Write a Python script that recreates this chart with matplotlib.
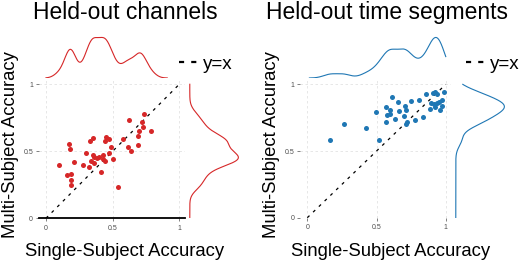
import numpy as np
import matplotlib
matplotlib.use('Agg')
import matplotlib.pyplot as plt
from matplotlib.lines import Line2D

plt.rcParams['font.family'] = ['Liberation Sans', 'DejaVu Sans']

# ── data ──────────────────────────────────────────────────────────────────────
chan_single = [0.735, 0.62, 0.72, 0.73, 0.695, 0.79, 0.69, 0.69, 0.58, 0.615,
               0.64, 0.45, 0.475, 0.445, 0.35, 0.33, 0.17, 0.18, 0.49, 0.47,
               0.30, 0.50, 0.35, 0.36, 0.385, 0.40, 0.425, 0.425, 0.44, 0.34,
               0.36, 0.32, 0.28, 0.21, 0.10, 0.41, 0.19, 0.16, 0.19, 0.185, 0.54]
chan_multi = [0.78, 0.73, 0.72, 0.68, 0.655, 0.655, 0.615, 0.545, 0.59, 0.535,
              0.50, 0.605, 0.59, 0.575, 0.60, 0.575, 0.555, 0.52, 0.53, 0.49,
              0.485, 0.44, 0.475, 0.46, 0.45, 0.455, 0.47, 0.445, 0.43, 0.425,
              0.41, 0.385, 0.395, 0.42, 0.40, 0.345, 0.33, 0.32, 0.285, 0.25, 0.235]

time_single = [0.165, 0.265, 0.425, 0.515, 0.495, 0.565, 0.61, 0.655, 0.595, 0.595,
               0.575, 0.57, 0.63, 0.665, 0.705, 0.715, 0.70, 0.72, 0.71, 0.75,
               0.78, 0.81, 0.835, 0.855, 0.885, 0.895, 0.91, 0.92, 0.925, 0.935,
               0.95, 0.955, 0.975, 0.975, 0.985, 0.935, 0.915]
time_multi = [0.585, 0.70, 0.675, 0.58, 0.79, 0.83, 0.905, 0.87, 0.81, 0.78,
              0.77, 0.72, 0.74, 0.80, 0.84, 0.805, 0.765, 0.715, 0.705, 0.875,
              0.735, 0.88, 0.755, 0.93, 0.815, 0.86, 0.935, 0.945, 0.83, 0.86,
              0.865, 0.81, 0.88, 0.84, 0.94, 0.93, 0.85]

ticks = [0, 0.5, 1]
tick_labels = ['0', '0.5', '1']

RED = '#d62728'
BLUE = '#1f77b4'
W, H = 520, 262


def kde(vals, bw, cut=3, clip=(0, 1), n=300):
    """Gaussian density on [min-cut*bw, max+cut*bw] clipped; cut=None -> whole clip range."""
    vals = np.asarray(vals)
    if cut is None:
        lo, hi = clip
    else:
        lo = max(vals.min() - cut * bw, clip[0])
        hi = min(vals.max() + cut * bw, clip[1])
    grid = np.linspace(lo, hi, n)
    z = (grid[:, None] - vals[None, :]) / bw
    dens = np.exp(-0.5 * z**2).sum(1) / (len(vals) * bw * np.sqrt(2 * np.pi))
    return grid, dens


fig = plt.figure(figsize=(W / 100, H / 100), dpi=100)


def px_axes(x0, y0, w, h):
    return fig.add_axes([x0 / W, 1 - (y0 + h) / H, w / W, h / H])


def panel(main_box, top_box, side_box, xs, ys, color, bwx, bwy,
          title, title_x, xlab_x, ylab_x, legend_x, axis_line):
    ax = px_axes(*main_box)
    ax.set_xlim(-0.05, 1.04)
    ax.set_ylim(0, 1.04)
    for s in ax.spines.values():
        s.set_visible(False)
    if axis_line:
        ax.spines['bottom'].set_visible(True)
        ax.spines['bottom'].set_color('black')
        ax.spines['bottom'].set_linewidth(1.3)
    ax.set_xticks(ticks, tick_labels)
    ax.set_yticks(ticks, tick_labels)
    ax.tick_params(labelsize=5, colors='#4d4d4d', length=2.5, width=0.5, pad=2)
    ax.grid(True, ls=(0, (3, 3)), color='#e3e3e3', lw=0.6)
    ax.set_axisbelow(True)

    ax.plot([0, 1], [0, 1], color='black', lw=0.9, ls=(0, (2.4, 4)), zorder=3)
    ax.scatter(xs, ys, s=13, color=color, lw=0, zorder=4)

    # marginal densities
    axt = px_axes(*top_box)
    gx, dx = kde(xs, bwx)
    axt.plot(gx, dx, color=color, lw=0.8)
    axt.set_xlim(ax.get_xlim())
    axt.set_ylim(0, dx.max() * 1.06)
    axt.axis('off')

    axs = px_axes(*side_box)
    gy, dy = kde(ys, bwy, cut=None)
    axs.plot(dy, gy, color=color, lw=0.8)
    axs.set_ylim(ax.get_ylim())
    axs.set_xlim(-dy.max() * 0.01, dy.max() * 1.06)
    axs.axis('off')

    fig.text(title_x / W, 1 - 19 / H, title, fontsize=16.5, ha='center', va='baseline')
    fig.text(xlab_x / W, 1 - 256 / H, 'Single-Subject Accuracy', fontsize=13.3,
             ha='center', va='baseline')
    fig.text(ylab_x / W, 1 - 145 / H, 'Multi-Subject Accuracy', fontsize=13.3,
             ha='center', va='center', rotation=90)

    handle = Line2D([], [], color='black', lw=1.6, ls=(0, (2.3, 3.2)))
    ax.legend([handle], ['y=x'], loc='center left', frameon=False,
              bbox_to_anchor=(legend_x / W, 1 - 64 / H), bbox_transform=fig.transFigure,
              fontsize=13.5, handlelength=0.95, handletextpad=0.35,
              borderpad=0, borderaxespad=0)


panel((39.3, 78.9, 145.3, 139.4), (39.3, 35, 145.3, 43), (189.3, 78.9, 52, 139.4),
      chan_single, chan_multi, RED, 0.04, 0.045,
      'Held-out channels', 125, 125, 11, 179, axis_line=True)

panel((300.4, 79, 150.9, 138.7), (300.4, 35, 150.9, 43), (455.3, 79, 52, 138.7),
      time_single, time_multi, BLUE, 0.05, 0.05,
      'Held-out time segments', 387.5, 391, 271, 466, axis_line=False)

fig.savefig('out.png', dpi=100)
